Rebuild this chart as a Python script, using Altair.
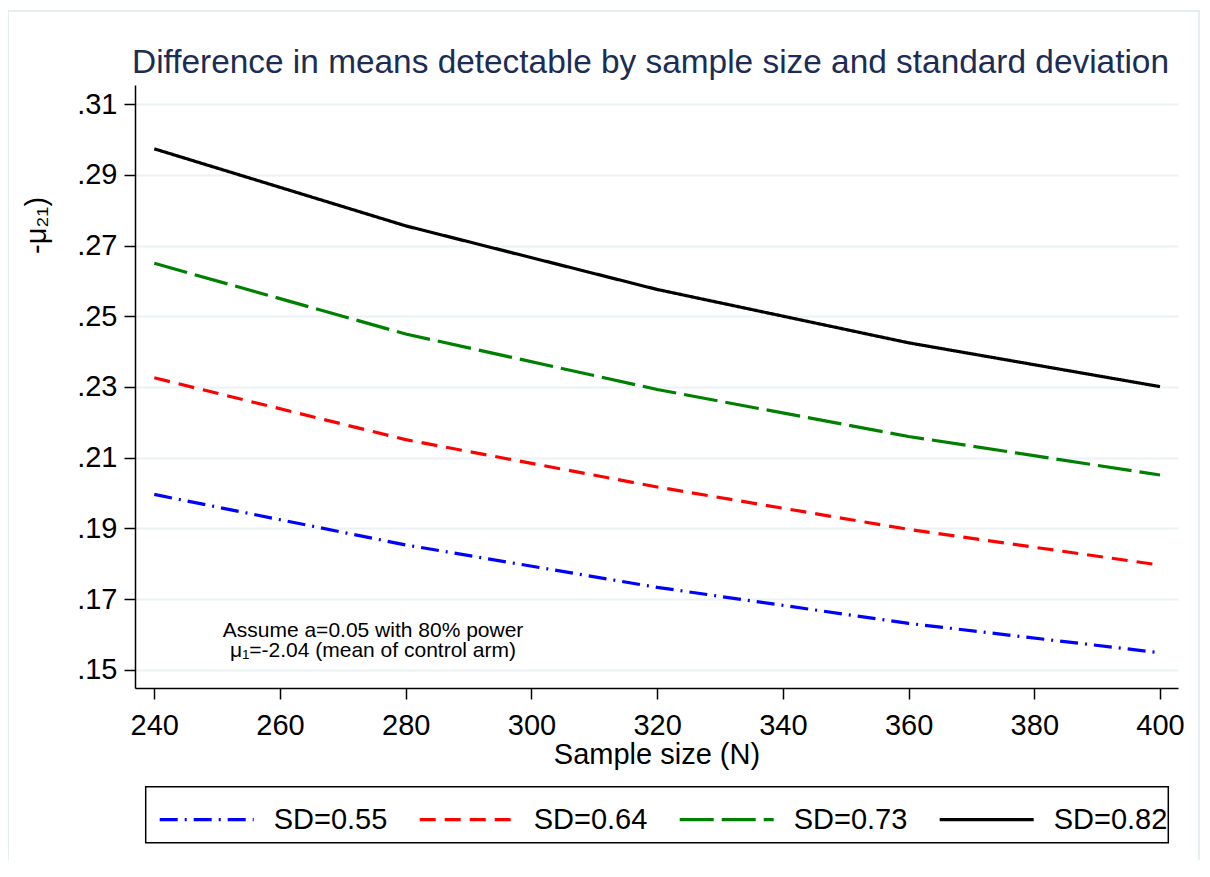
import altair as alt
import pandas as pd

# ---- data ----
sample_size = [240, 280, 320, 360, 400]
sd_labels = ["SD=0.55", "SD=0.64", "SD=0.73", "SD=0.82"]
diff_sd055 = [0.1996, 0.1853, 0.1733, 0.1631, 0.1548]
diff_sd064 = [0.2326, 0.2151, 0.2017, 0.1897, 0.1796]
diff_sd073 = [0.2650, 0.2450, 0.2293, 0.2160, 0.2051]
diff_sd082 = [0.2974, 0.2756, 0.2576, 0.2425, 0.2301]

x_ticks = [240, 260, 280, 300, 320, 340, 360, 380, 400]
y_ticks = [0.15, 0.17, 0.19, 0.21, 0.23, 0.25, 0.27, 0.29, 0.31]

note_lines = ["Assume a=0.05 with 80% power", "μ₁=-2.04 (mean of control arm)"]
title_text = "Difference in means detectable by sample size and standard deviation"
x_title = "Sample size (N)"
y_title = "-μ₂₁)"

# ---- styles ----
colors = ["#0000ff", "#ff0000", "#008000", "#000000"]
dashes = [[18, 7, 2, 7], [16, 9], [34, 8], [1, 0]]
widths = [3.2, 3.2, 3.2, 2.4]
FONT = "Liberation Sans"

rows = []
for lab, vals in zip(sd_labels, [diff_sd055, diff_sd064, diff_sd073, diff_sd082]):
    for n, v in zip(sample_size, vals):
        rows.append({"n": n, "diff": v, "sd": lab})
df = pd.DataFrame(rows)

W, H = 1043, 603

legend = alt.Legend(
    title=None, orient="none", legendX=10.7, legendY=673.7,
    direction="horizontal", columns=4, symbolType="stroke", symbolSize=8836,
    labelFontSize=29, labelFont=FONT, labelColor="black", labelOffset=18,
    columnPadding=25, padding=12, labelLimit=0,
)

x_enc = alt.X(
    "n:Q",
    scale=alt.Scale(domain=[236.93, 402.86], nice=False, zero=False),
    axis=alt.Axis(values=x_ticks, title=x_title, grid=False, labelPadding=12,
                  titleY=75, titleBaseline="alphabetic", titleFontSize=29),
)
y_enc = alt.Y(
    "diff:Q",
    scale=alt.Scale(domain=[0.14482, 0.31546], nice=False, zero=False),
    axis=alt.Axis(values=y_ticks, title=y_title, grid=True, labelPadding=7,
                  labelExpr="replace(format(datum.value, '.2f'), '0.', '.')",
                  titleAngle=270, titleX=-90, titleY=140, titleAlign="center",
                  titleBaseline="alphabetic", titleFontSize=29),
)

lines = alt.Chart(df).mark_line(strokeCap="butt", clip=False).encode(
    x=x_enc,
    y=y_enc,
    color=alt.Color("sd:N", scale=alt.Scale(domain=sd_labels, range=colors), legend=legend),
    strokeDash=alt.StrokeDash("sd:N", scale=alt.Scale(domain=sd_labels, range=dashes), legend=legend),
    strokeWidth=alt.StrokeWidth("sd:N", scale=alt.Scale(domain=sd_labels, range=widths), legend=legend),
    order="n:Q",
)

note = alt.Chart(alt.Data(values=[{}])).mark_text(
    font=FONT, fontSize=21, color="black", align="center", baseline="middle", lineHeight=20,
).encode(
    x=alt.datum(274.8),
    y=alt.datum(0.1609),
    text=alt.value(note_lines),
)

# light outer frame of the graph region (decoration)
frame = alt.Chart(alt.Data(values=[{}])).mark_rect(
    fill="transparent", stroke="#e6eef1", strokeWidth=2,
).encode(
    x=alt.value(-127), x2=alt.value(1064), y=alt.value(-74), y2=alt.value(830),
)

# black box around the legend (decoration)
legend_box = alt.Chart(alt.Data(values=[{}])).mark_rect(
    fill="transparent", stroke="black", strokeWidth=1.5,
).encode(
    x=alt.value(10.7), x2=alt.value(1033.3), y=alt.value(701.7), y2=alt.value(757.7),
)

chart = alt.layer(frame, legend_box, lines, note).properties(
    width=W, height=H,
    autosize=alt.AutoSizeParams(type="none"),
    padding={"left": 127, "top": 77, "right": 22, "bottom": 172},
    background="white",
    title=alt.TitleParams(
        title_text, font=FONT, fontSize=33.4, fontWeight="normal", color="#1c2d55",
        anchor="middle", baseline="alphabetic", offset=-96.5, dx=-6, frame="group",
    ),
).configure_view(stroke=None).configure_axis(
    labelFont=FONT, labelFontSize=29, labelColor="black",
    titleFont=FONT, titleColor="black", titleFontWeight="normal",
    domainColor="black", domainWidth=1.5, tickColor="black", tickWidth=1.5, tickSize=11,
    gridColor="#eaf2f3", gridWidth=2,
)

chart.save("out.html", embed_options={"renderer": "svg", "actions": False})
